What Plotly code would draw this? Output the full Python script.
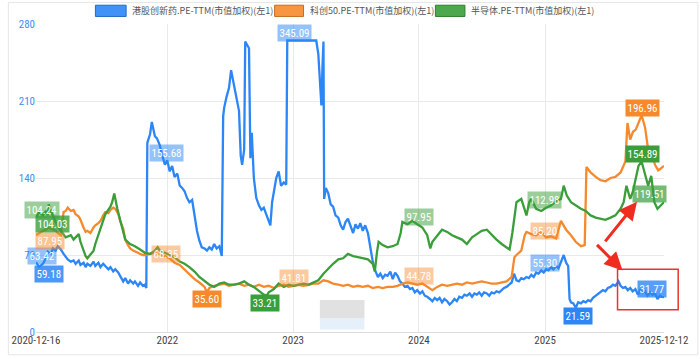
import plotly.graph_objects as go

# ---------------- data ----------------
blue_name = "港股创新药.PE-TTM(市值加权)(左1)"
orange_name = "科创50.PE-TTM(市值加权)(左1)"
green_name = "半导体.PE-TTM(市值加权)(左1)"

blue_dates = [
    "2020-12-16","2020-12-25","2021-01-05","2021-01-14","2021-01-19","2021-01-28","2021-02-03","2021-02-11",
    "2021-02-17","2021-02-26","2021-03-06","2021-03-12","2021-03-18","2021-03-27","2021-04-04","2021-04-10",
    "2021-04-19","2021-04-24","2021-05-03","2021-05-09","2021-05-14","2021-05-23","2021-06-01","2021-06-06",
    "2021-06-15","2021-06-21","2021-06-29","2021-07-05","2021-07-14","2021-07-20","2021-07-28","2021-08-03",
    "2021-08-12","2021-08-17","2021-08-26","2021-09-01","2021-09-09","2021-09-15","2021-09-24","2021-09-29",
    "2021-10-08","2021-10-14","2021-10-22","2021-10-28","2021-11-01","2021-11-04","2021-11-12","2021-11-17",
    "2021-11-26","2021-12-02","2021-12-10","2021-12-16","2021-12-25","2022-01-01","2022-01-08","2022-01-15",
    "2022-01-22","2022-01-30","2022-02-06","2022-02-13","2022-02-20","2022-02-27","2022-03-06","2022-03-14",
    "2022-03-21","2022-03-28","2022-04-04","2022-04-11","2022-04-19","2022-04-26","2022-05-03","2022-05-10",
    "2022-05-17","2022-05-24","2022-06-01","2022-06-08","2022-06-12","2022-06-15","2022-06-22","2022-06-29",
    "2022-07-05","2022-07-14","2022-07-21","2022-07-28","2022-08-02","2022-08-06","2022-08-12","2022-08-15",
    "2022-08-26","2022-08-30","2022-09-03","2022-09-09","2022-09-16","2022-09-24","2022-10-01","2022-10-08",
    "2022-10-15","2022-10-22","2022-10-27","2022-11-01","2022-11-06","2022-11-13","2022-11-20","2022-11-27",
    "2022-12-05","2022-12-12","2022-12-15","2023-01-15","2023-02-15","2023-03-09","2023-03-15","2023-03-20",
    "2023-03-24","2023-03-27","2023-03-30","2023-04-01","2023-04-06","2023-04-13","2023-04-20","2023-04-27",
    "2023-05-04","2023-05-12","2023-05-19","2023-05-26","2023-06-02","2023-06-09","2023-06-16","2023-06-24",
    "2023-07-01","2023-07-08","2023-07-15","2023-07-22","2023-07-29","2023-08-06","2023-08-13","2023-08-20",
    "2023-08-27","2023-09-04","2023-09-11","2023-09-18","2023-09-25","2023-10-02","2023-10-10","2023-10-17",
    "2023-10-24","2023-10-31","2023-11-07","2023-11-14","2023-11-21","2023-11-29","2023-12-06","2023-12-13",
    "2023-12-20","2023-12-27","2024-01-04","2024-01-11","2024-01-18","2024-01-25","2024-02-02","2024-02-09",
    "2024-02-16","2024-02-23","2024-03-01","2024-03-08","2024-03-15","2024-03-23","2024-03-30","2024-04-06",
    "2024-04-13","2024-04-20","2024-04-27","2024-05-05","2024-05-12","2024-05-19","2024-05-27","2024-06-03",
    "2024-06-10","2024-06-17","2024-06-24","2024-07-01","2024-07-08","2024-07-16","2024-07-23","2024-07-30",
    "2024-08-06","2024-08-13","2024-08-21","2024-08-28","2024-09-04","2024-09-11","2024-09-18","2024-09-26",
    "2024-10-03","2024-10-10","2024-10-17","2024-10-24","2024-10-31","2024-11-08","2024-11-15","2024-11-22",
    "2024-11-29","2024-12-06","2024-12-13","2024-12-21","2024-12-28","2025-01-04","2025-01-11","2025-01-18",
    "2025-01-25","2025-02-02","2025-02-09","2025-02-16","2025-02-24","2025-03-03","2025-03-09","2025-03-13",
    "2025-03-17","2025-03-24","2025-03-31","2025-04-07","2025-04-15","2025-04-22","2025-04-29","2025-05-06",
    "2025-05-13","2025-05-20","2025-05-28","2025-06-04","2025-06-11","2025-06-18","2025-06-25","2025-07-02",
    "2025-07-10","2025-07-17","2025-07-24","2025-08-02","2025-08-08","2025-08-15","2025-08-22","2025-08-29",
    "2025-09-05","2025-09-12","2025-09-20","2025-09-27","2025-10-04","2025-10-11","2025-10-18","2025-10-25",
    "2025-11-02","2025-11-09","2025-11-16","2025-11-23","2025-11-30","2025-12-05","2025-12-12",
]
blue_pe = [
    63.4, 59.2, 62, 67, 73, 71, 76, 74,
    78, 75, 71, 68, 66, 64, 65, 62,
    65, 61, 63, 59, 62, 60, 64, 60,
    63, 59, 62, 60, 57, 59, 55, 57,
    54, 51, 46, 49, 44, 47, 44, 46,
    42, 45, 42, 43, 40, 172, 180, 191,
    178, 176, 170, 162, 152, 156, 146, 151,
    141, 144, 133, 131, 128, 122, 118, 120,
    104, 92, 83, 77, 76, 74, 77, 75,
    80, 76, 78, 69, 196, 204, 214, 222,
    238, 224, 212, 201, 160, 152, 166, 264,
    258, 158, 181, 140, 122, 115, 111, 113,
    107, 102, 97, 118, 127, 140, 146, 133,
    136, 134, 265, 265, 265, 265, 253, 230,
    206, 240, 264, 121, 131, 126, 116, 114,
    106, 104, 97, 93, 100, 103, 96, 90,
    98, 94, 99, 92, 97, 90, 77, 64,
    56, 50, 53, 49, 52, 51, 55, 48,
    54, 51, 46, 44, 41, 42, 39, 40,
    36, 38, 35, 37, 33, 32, 30, 28,
    31, 29, 31, 27, 30, 28, 25, 27,
    30, 28, 32, 31, 34, 33, 35, 32,
    35, 34, 36, 33, 36, 35, 33, 36,
    35, 37, 36, 38, 40, 41, 43, 45,
    53, 47, 46, 49, 48, 50, 49, 52,
    50, 54, 53, 56, 54, 57, 56, 59,
    57, 60, 58, 63, 70, 63, 60, 30,
    27, 26, 22, 27, 26, 28, 27, 29,
    28, 31, 33, 35, 36, 38, 37, 40,
    41, 43, 42, 46, 42, 40, 41, 38,
    40, 37, 39, 34, 38, 36, 37, 33,
    36, 34, 35, 30, 33, 32, 31.77,
]

orange_dates = [
    "2020-12-16","2020-12-25","2021-01-05","2021-01-14","2021-01-19","2021-01-28","2021-02-03","2021-02-11",
    "2021-02-17","2021-02-26","2021-03-06","2021-03-12","2021-03-18","2021-03-27","2021-04-04","2021-04-10",
    "2021-04-19","2021-04-24","2021-05-03","2021-05-09","2021-05-14","2021-05-23","2021-06-01","2021-06-06",
    "2021-06-15","2021-06-21","2021-06-29","2021-07-05","2021-07-14","2021-07-20","2021-07-28","2021-08-03",
    "2021-08-12","2021-08-17","2021-08-26","2021-09-01","2021-09-09","2021-09-15","2021-09-24","2021-09-29",
    "2021-10-08","2021-10-14","2021-10-22","2021-10-28","2021-11-12","2021-11-26","2021-12-10","2021-12-25",
    "2022-01-08","2022-01-22","2022-02-06","2022-02-20","2022-03-06","2022-03-21","2022-04-04","2022-04-19",
    "2022-04-26","2022-05-03","2022-05-17","2022-06-01","2022-06-15","2022-06-29","2022-07-14","2022-07-28",
    "2022-08-12","2022-08-26","2022-09-09","2022-09-24","2022-10-08","2022-10-22","2022-11-06","2022-11-20",
    "2022-12-05","2022-12-19","2023-01-02","2023-01-17","2023-01-31","2023-02-14","2023-03-01","2023-03-15",
    "2023-03-30","2023-04-13","2023-04-27","2023-05-12","2023-05-26","2023-06-09","2023-06-24","2023-07-08",
    "2023-07-22","2023-08-06","2023-08-20","2023-09-04","2023-09-18","2023-10-02","2023-10-17","2023-10-31",
    "2023-11-14","2023-11-29","2023-12-13","2023-12-27","2024-01-11","2024-01-25","2024-02-09","2024-02-23",
    "2024-03-08","2024-03-23","2024-04-06","2024-04-20","2024-05-05","2024-05-19","2024-06-03","2024-06-17",
    "2024-07-01","2024-07-16","2024-07-30","2024-08-13","2024-08-28","2024-09-11","2024-09-26","2024-10-04",
    "2024-10-10","2024-10-24","2024-11-03","2024-11-08","2024-11-22","2024-12-06","2024-12-21","2025-01-04",
    "2025-01-18","2025-02-02","2025-02-16","2025-03-03","2025-03-17","2025-03-31","2025-04-15","2025-04-26",
    "2025-05-01","2025-05-13","2025-05-28","2025-06-11","2025-06-25","2025-07-10","2025-07-24","2025-08-08",
    "2025-08-22","2025-08-28","2025-09-05","2025-09-13","2025-09-21","2025-10-08","2025-10-18","2025-10-27",
    "2025-11-02","2025-11-10","2025-11-16","2025-11-25","2025-11-30","2025-12-12",
]
orange_pe = [
    88, 90, 92, 93, 95, 94, 93, 92,
    90, 88, 109, 110, 113, 110, 111, 107,
    105, 102, 95, 91, 92, 90, 95, 97,
    99, 101, 106, 109, 108, 111, 113, 112,
    107, 101, 94, 84, 79, 76, 74, 73,
    72, 71, 70, 70, 71, 72, 70, 69,
    67, 63, 61, 57, 53, 48, 45, 41,
    36, 40, 42, 43, 44, 42, 43, 44,
    42, 43, 41, 43, 41, 42, 40, 42,
    43, 41, 42, 43, 42, 43, 44, 44,
    47, 46, 44, 43, 42, 43, 41, 42,
    41, 42, 40, 41, 40, 41, 41, 42,
    44, 45, 44, 43, 44, 41, 38, 41,
    43, 42, 43, 44, 43, 45, 44, 45,
    46, 45, 44, 44, 45, 46, 50, 68,
    70, 74, 88, 91, 89, 88, 91, 86,
    87, 85, 101, 93, 88, 82, 78, 79,
    150, 145, 141, 138, 137, 140, 141, 145,
    155, 190, 175, 182, 184, 197, 186, 166,
    162, 158, 152, 147, 148, 151,
]

green_dates = [
    "2020-12-16","2020-12-25","2021-01-05","2021-01-14","2021-01-19","2021-01-22","2021-01-28","2021-02-03",
    "2021-02-11","2021-02-26","2021-03-12","2021-03-27","2021-04-04","2021-04-10","2021-04-19","2021-04-24",
    "2021-05-03","2021-05-09","2021-05-14","2021-05-23","2021-06-01","2021-06-06","2021-06-21","2021-07-05",
    "2021-07-20","2021-07-25","2021-07-31","2021-08-03","2021-08-09","2021-08-17","2021-08-26","2021-09-01",
    "2021-09-15","2021-09-29","2021-10-14","2021-10-28","2021-11-12","2021-11-26","2021-12-04","2021-12-10",
    "2021-12-25","2022-01-08","2022-01-22","2022-02-06","2022-02-20","2022-03-06","2022-03-21","2022-04-04",
    "2022-04-19","2022-05-03","2022-05-17","2022-06-01","2022-06-15","2022-06-29","2022-07-14","2022-07-28",
    "2022-08-12","2022-08-26","2022-09-09","2022-09-24","2022-10-08","2022-10-17","2022-10-22","2022-11-06",
    "2022-11-20","2022-12-05","2022-12-19","2023-01-02","2023-01-17","2023-01-31","2023-02-14","2023-03-01",
    "2023-03-15","2023-03-30","2023-04-13","2023-04-27","2023-05-12","2023-05-26","2023-06-09","2023-06-24",
    "2023-07-08","2023-07-22","2023-08-06","2023-08-20","2023-08-26","2023-09-01","2023-09-06","2023-09-18",
    "2023-10-02","2023-10-17","2023-10-31","2023-11-09","2023-11-14","2023-11-29","2023-12-13","2023-12-27",
    "2024-01-11","2024-01-25","2024-02-03","2024-02-09","2024-02-23","2024-03-08","2024-03-23","2024-04-06",
    "2024-04-20","2024-05-05","2024-05-19","2024-06-03","2024-06-17","2024-07-01","2024-07-16","2024-07-30",
    "2024-08-13","2024-08-28","2024-09-11","2024-09-20","2024-09-28","2024-10-04","2024-10-10","2024-10-24",
    "2024-11-03","2024-11-08","2024-11-16","2024-11-22","2024-12-06","2024-12-21","2025-01-04","2025-01-18",
    "2025-02-02","2025-02-16","2025-02-24","2025-03-05","2025-03-17","2025-03-31","2025-04-15","2025-04-29",
    "2025-05-13","2025-05-28","2025-06-11","2025-06-25","2025-07-10","2025-07-24","2025-08-08","2025-08-17",
    "2025-08-25","2025-09-05","2025-09-13","2025-09-20","2025-09-29","2025-10-08","2025-10-18","2025-10-27",
    "2025-11-05","2025-11-14","2025-11-23","2025-11-30","2025-12-12",
]
green_pe = [
    104, 109, 106, 110, 106, 116, 110, 106,
    100, 92, 86, 88, 84, 86, 89, 82,
    73, 69, 67, 71, 74, 80, 93, 107,
    114, 118, 126, 120, 112, 102, 90, 84,
    80, 78, 75, 72, 71, 74, 77, 74,
    72, 70, 68, 64, 62, 59, 55, 50,
    46, 43, 41, 44, 45, 43, 43, 44,
    46, 43, 41, 37, 34, 33.2, 36, 39,
    44, 41, 43, 42, 43, 44, 43, 45,
    47, 53, 58, 62, 66, 67, 71, 69,
    68, 67, 66, 62, 55, 72, 82, 79,
    77, 78, 80, 90, 100, 98, 101, 98,
    95, 88, 76, 82, 87, 93, 91, 88,
    86, 84, 80, 86, 89, 92, 93, 88,
    84, 80, 77, 75, 90, 106, 118, 121,
    112, 106, 118, 121, 112, 110, 113, 115,
    119, 121, 133, 124, 118, 115, 112, 110,
    106, 104, 103, 102, 104, 106, 112, 118,
    133, 121, 128, 139, 151, 155, 142, 133,
    142, 118, 112, 114, 118,
]

# value labels shown on the chart (text, date, value-level of the label, series, opacity)
label_texts = ["63.42", "59.18", "155.68", "345.09", "55.30", "21.59", "31.77",
               "87.95", "68.35", "35.60", "41.81", "44.78", "85.20", "196.96",
               "104.24", "104.03", "33.21", "97.95", "112.98", "154.89", "119.51"]
label_dates = ["2021-01-02", "2021-01-24", "2021-12-31", "2023-01-04", "2025-01-01", "2025-04-07", "2025-11-07",
               "2021-01-26", "2021-12-29", "2022-04-27", "2023-01-04", "2024-01-02", "2025-01-01", "2025-10-10",
               "2021-01-02", "2021-02-02", "2022-10-11", "2024-01-02", "2024-12-31", "2025-10-10", "2025-10-30"]
label_levels = [69.3, 52.4, 162.5, 271.5, 62.3, 14.7, 38.8,
                82.5, 71.3, 29.8, 48.8, 51.2, 91.5, 203.8,
                111.3, 98.4, 26.8, 104.4, 120.4, 161.6, 125.5]
label_series = ["b", "b", "b", "b", "b", "b", "b",
                "o", "o", "o", "o", "o", "o", "o",
                "g", "g", "g", "g", "g", "g", "g"]
label_alpha = [0.5, 0.85, 0.5, 0.5, 0.5, 1.0, 0.8,
               0.5, 0.45, 1.0, 0.45, 0.45, 0.45, 1.0,
               0.5, 0.8, 1.0, 0.5, 0.5, 1.0, 0.7]

x_tick_vals = ["2020-12-16", "2022-01-01", "2023-01-01", "2024-01-01", "2025-01-01", "2025-12-12"]
x_tick_text = ["2020-12-16", "2022", "2023", "2024", "2025", "2025-12-12"]
y_tick_vals = [0, 70, 140, 210, 280]

# ---------------- styling ----------------
RGB = {"b": (44, 134, 246), "o": (246, 137, 44), "g": (58, 158, 58)}
def hexc(k):
    r, g, b = RGB[k]
    return f"rgb({r},{g},{b})"

NUM_FONT = "Liberation Sans Narrow, Roboto Condensed, Liberation Sans, Arial"
CJK_FONT = "Noto Sans CJK SC, Noto Sans, sans-serif"

fig = go.Figure()
for dates, vals, name, k in [(blue_dates, blue_pe, blue_name, "b"),
                             (orange_dates, orange_pe, orange_name, "o"),
                             (green_dates, green_pe, green_name, "g")]:
    fig.add_trace(go.Scatter(x=dates, y=vals, mode="lines", name=name,
                             line=dict(color=hexc(k), width=2.3), showlegend=False))

annotations = []
for t, d, v, k, a in zip(label_texts, label_dates, label_levels, label_series, label_alpha):
    r, g, b = RGB[k]
    annotations.append(dict(x=d, y=v, xref="x", yref="y", text=t, showarrow=False,
                            xanchor="center", yanchor="middle",
                            bgcolor=f"rgba({r},{g},{b},{a})", borderpad=1.5,
                            font=dict(color="white", size=11, family=NUM_FONT)))

# manual legend (rectangles + text) in paper coordinates
shapes = []
leg_items = [(blue_name, "b", 0.0946, 0.1435, 0.149),
             (orange_name, "o", 0.380, 0.426, 0.433),
             (green_name, "g", 0.636, 0.683, 0.689)]
for name, k, x0, x1, xt in leg_items:
    r, g, b = RGB[k]
    shapes.append(dict(type="rect", xref="paper", yref="paper", x0=x0, x1=x1, y0=1.0245, y1=1.061,
                       fillcolor=f"rgba({r},{g},{b},0.9)",
                       line=dict(color=f"rgb({int(r*0.8)},{int(g*0.8)},{int(b*0.8)})", width=1)))
    annotations.append(dict(x=xt, y=1.043, xref="paper", yref="paper", text=name, showarrow=False,
                            xanchor="left", yanchor="middle",
                            font=dict(color="#555555", size=9, family=CJK_FONT)))

# red highlight box and arrows
shapes.append(dict(type="rect", xref="paper", yref="paper", x0=0.926, x1=1.0226, y0=0.072, y1=0.204,
                   line=dict(color="#e8352b", width=1.5), fillcolor="rgba(0,0,0,0)"))
annotations.append(dict(x=0.957, y=0.4226, xref="paper", yref="paper", ax=-33, ay=41, text="",
                        showarrow=True, arrowhead=2, arrowsize=1.2, arrowwidth=3, arrowcolor="#ee2d20"))
annotations.append(dict(x=0.934, y=0.200, xref="paper", yref="paper", ax=-27, ay=-27, text="",
                        showarrow=True, arrowhead=2, arrowsize=1.2, arrowwidth=3, arrowcolor="#ee2d20"))

# blurred watermark blocks
shapes.append(dict(type="rect", xref="paper", yref="paper", x0=0.452, x1=0.523, y0=0.045, y1=0.104,
                   line=dict(width=0), fillcolor="rgba(200,200,200,0.55)", layer="below"))
shapes.append(dict(type="rect", xref="paper", yref="paper", x0=0.452, x1=0.523, y0=0.008, y1=0.045,
                   line=dict(width=0), fillcolor="rgba(210,228,248,0.55)", layer="below"))

# outer light frame
shapes.append(dict(type="rect", xref="paper", yref="paper", x0=-0.044, x1=1.054, y0=-0.074, y1=1.07,
                   line=dict(color="#e6e6e6", width=1), fillcolor="rgba(0,0,0,0)"))

fig.update_layout(
    width=700, height=359,
    margin=dict(l=30, r=36, t=24, b=25),
    paper_bgcolor="white", plot_bgcolor="white",
    showlegend=False,
    annotations=annotations, shapes=shapes,
    xaxis=dict(type="date", range=["2020-12-16", "2025-12-12"],
               tickvals=x_tick_vals, ticktext=x_tick_text,
               showgrid=True, gridcolor="#e9e9e9", gridwidth=1,
               showline=False, zeroline=False, ticks="",
               tickfont=dict(color="#444444", size=11, family=NUM_FONT)),
    yaxis=dict(range=[0, 280], tickvals=y_tick_vals,
               showgrid=True, gridcolor="#e9e9e9", gridwidth=1,
               zeroline=True, zerolinecolor="#dddddd", zerolinewidth=1,
               showline=False, ticks="",
               tickfont=dict(color="#3d8ef0", size=11, family=NUM_FONT)),
)

fig.write_html("out.html", config={"displayModeBar": False},
               post_script="document.body.style.margin='0';document.body.style.overflow='hidden';")
